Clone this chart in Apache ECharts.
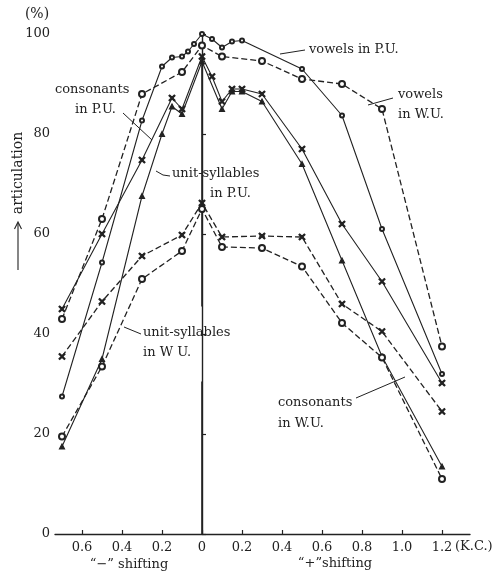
<!DOCTYPE html>
<html>
<head>
<meta charset="utf-8">
<script src="https://cdn.jsdelivr.net/npm/echarts@6/dist/echarts.min.js"></script>
<style>
  html, body { margin: 0; padding: 0; background: #fff; }
  #chart { width: 499px; height: 575px; }
</style>
</head>
<body>
<div id="chart"></div>
<script>
// Articulation (%) against frequency shift (K.C.); negative x = "-" shifting.
const xTickValues = [-0.6, -0.4, -0.2, 0, 0.2, 0.4, 0.6, 0.8, 1.0, 1.2];
const yTickValues = [0, 20, 40, 60, 80, 100];

const vowelsPU_x = [-0.7, -0.5, -0.3, -0.2, -0.15, -0.1, -0.07, -0.04, 0, 0.05, 0.1, 0.15, 0.2, 0.5, 0.7, 0.9, 1.2];
const vowelsPU_y = [27.5, 54.3, 82.7, 93.5, 95.3, 95.5, 96.5, 98, 100, 99, 97.3, 98.5, 98.7, 93, 83.7, 61, 32];

const vowelsWU_x = [-0.7, -0.5, -0.3, -0.1, 0, 0.1, 0.3, 0.5, 0.7, 0.9, 1.2];
const vowelsWU_y = [43, 63, 88, 92.4, 97.7, 95.5, 94.6, 91, 90, 85, 37.5];

const consPU_x = [-0.7, -0.5, -0.3, -0.15, -0.1, 0, 0.05, 0.1, 0.15, 0.2, 0.3, 0.5, 0.7, 0.9, 1.2];
const consPU_y = [45, 60, 74.8, 87.2, 85, 95.5, 91.5, 86.5, 89, 89, 88, 77, 62, 50.5, 30.2];

const unitPU_x = [-0.7, -0.5, -0.3, -0.2, -0.15, -0.1, 0, 0.1, 0.15, 0.2, 0.3, 0.5, 0.7, 0.9, 1.2];
const unitPU_y = [17.5, 35, 67.6, 80, 85.5, 84, 94.5, 85, 88.5, 88.5, 86.5, 74, 54.7, 35.5, 13.5];

const consWU_x = [-0.7, -0.5, -0.3, -0.1, 0, 0.1, 0.3, 0.5, 0.7, 0.9, 1.2];
const consWU_y = [35.5, 46.5, 55.6, 59.8, 66.2, 59.4, 59.6, 59.4, 46, 40.5, 24.5];

const unitWU_x = [-0.7, -0.5, -0.3, -0.1, 0, 0.1, 0.3, 0.5, 0.7, 0.9, 1.2];
const unitWU_y = [19.5, 33.5, 51, 56.6, 65, 57.4, 57.2, 53.5, 42.2, 35.3, 11];

// the zero-shift guide line, broken where the labels sit
const zeroLineLower = [0, 30.5];
const zeroLineUpper = [45.5, 94];

const INK = '#222';
const FONT = 'DejaVu Serif, Liberation Serif, serif';
const CROSS = 'path://M0,1.2L1.2,0L5,3.8L8.8,0L10,1.2L6.2,5L10,8.8L8.8,10L5,6.2L1.2,10L0,8.8L3.8,5Z';

const zip = (xs, ys) => xs.map((x, i) => [x, ys[i]]);

function curve(name, xs, ys, dashed, symbol, size) {
  return {
    name, type: 'line', data: zip(xs, ys),
    symbol, symbolSize: size, showSymbol: true, smooth: false,
    lineStyle: { color: INK, width: dashed ? 1.3 : 1.1, type: dashed ? [6, 3] : 'solid' },
    itemStyle: { color: INK, borderColor: INK, borderWidth: 1.2 },
    silent: true, z: 3
  };
}

const chart = echarts.init(document.getElementById('chart'), null, { renderer: 'canvas' });

chart.setOption({
  animation: false,
  backgroundColor: '#fff',
  grid: { left: 55, right: 29, top: 34, bottom: 41 },
  xAxis: {
    type: 'value', min: -0.735, max: 1.34,
    axisLine: { show: true, onZero: false, lineStyle: { color: INK, width: 1.4 } },
    axisTick: { show: true, inside: true, length: 4, customValues: xTickValues, lineStyle: { color: INK, width: 1.2 } },
    axisLabel: {
      show: true, customValues: xTickValues, margin: 7,
      color: INK, fontFamily: FONT, fontSize: 13,
      formatter: v => (Math.abs(v) < 1e-9 ? '0' : Math.abs(v).toFixed(1))
    },
    splitLine: { show: false }
  },
  yAxis: {
    type: 'value', min: 0, max: 100, interval: 20,
    axisLine: { show: true, lineStyle: { color: INK, width: 1.4 } },
    axisTick: { show: true, inside: true, length: 4, customValues: yTickValues, lineStyle: { color: INK, width: 1.2 } },
    axisLabel: { show: true, customValues: yTickValues, margin: 5, color: INK, fontFamily: FONT, fontSize: 13 },
    splitLine: { show: false }
  },
  series: [
    {
      type: 'line', data: [[0, zeroLineLower[0]], [0, zeroLineLower[1]]],
      symbol: 'none', lineStyle: { color: INK, width: 1.6 }, silent: true, z: 2
    },
    {
      type: 'line', data: [[0, zeroLineUpper[0]], [0, zeroLineUpper[1]]],
      symbol: 'none', lineStyle: { color: INK, width: 1.6 }, silent: true, z: 2
    },
    curve('vowels in P.U.', vowelsPU_x, vowelsPU_y, false, 'emptyCircle', 4),
    curve('vowels in W.U.', vowelsWU_x, vowelsWU_y, true, 'emptyCircle', 6),
    curve('consonants in P.U.', consPU_x, consPU_y, false, CROSS, 6),
    curve('unit-syllables in P.U.', unitPU_x, unitPU_y, false, 'triangle', 5),
    curve('consonants in W.U.', consWU_x, consWU_y, true, CROSS, 6),
    curve('unit-syllables in W.U.', unitWU_x, unitWU_y, true, 'emptyCircle', 6)
  ]
});

// curve labels with their leader lines, placed in data coordinates
const px = (k, v) => chart.convertToPixel({ gridIndex: 0 }, [k, v]);

const labels = [
  { lines: [['vowels in P.U.', 0.535, 96.8]], leader: [[0.39, 96.0], [0.515, 96.8]] },
  { lines: [['vowels', 0.98, 87.8], ['in W.U.', 0.98, 83.9]], leader: [[0.83, 85.8], [0.955, 87.2]] },
  { lines: [['consonants', -0.735, 88.8], ['in P.U.', -0.635, 84.9]], leader: [[-0.395, 84.2], [-0.25, 78.8]] },
  { lines: [['unit-syllables', -0.15, 72], ['in P.U.', 0.04, 68.1]], leader: [[-0.16, 71.6], [-0.195, 71.8], [-0.23, 72.6]] },
  { lines: [['unit-syllables', -0.295, 40.2], ['in W U.', -0.295, 36.3]], leader: [[-0.305, 40], [-0.39, 41.4]] },
  { lines: [['consonants', 0.38, 26.2], ['in W.U.', 0.38, 22.1]], leader: [[0.77, 27.2], [1.015, 31.4]] }
];

const graphic = [];
labels.forEach(l => {
  l.lines.forEach(([t, k, v]) => {
    const p = px(k, v);
    graphic.push({
      type: 'text', x: p[0], y: p[1], silent: true, z: 10,
      style: { text: t, fill: INK, font: '13px ' + FONT, textAlign: 'left', textVerticalAlign: 'middle' }
    });
  });
  graphic.push({
    type: 'polyline', silent: true, z: 9,
    shape: { points: l.leader.map(q => px(q[0], q[1])) },
    style: { stroke: INK, lineWidth: 1, fill: null }
  });
});

const originPt = px(-0.735, 0);
const topPt = px(-0.735, 100);

// unit markers and shifting captions
graphic.push({
  type: 'text', x: topPt[0] - 18, y: topPt[1] - 20, silent: true,
  style: { text: '(%)', fill: INK, font: '14px ' + FONT, textAlign: 'center', textVerticalAlign: 'middle' }
});
const kcPt = px(1.265, 0);
graphic.push({
  type: 'text', x: kcPt[0], y: kcPt[1] + 13, silent: true,
  style: { text: '(K.C.)', fill: INK, font: '13px ' + FONT, textAlign: 'left', textVerticalAlign: 'middle' }
});
const minusCap = px(-0.365, 0);
graphic.push({
  type: 'text', x: minusCap[0], y: minusCap[1] + 31, silent: true,
  style: { text: '\u201C\u2212\u201D shifting', fill: INK, font: '13px ' + FONT, textAlign: 'center', textVerticalAlign: 'middle' }
});
const plusCap = px(0.665, 0);
graphic.push({
  type: 'text', x: plusCap[0], y: plusCap[1] + 30, silent: true,
  style: { text: '\u201C+\u201Dshifting', fill: INK, font: '13px ' + FONT, textAlign: 'center', textVerticalAlign: 'middle' }
});

// rotated axis title with a long upward arrow beneath it
const titleX = originPt[0] - 37;
graphic.push({
  type: 'text', x: titleX, y: topPt[1] + 139, rotation: Math.PI / 2, silent: true,
  style: { text: 'articulation', fill: INK, font: '14px ' + FONT, textAlign: 'center', textVerticalAlign: 'middle' }
});
graphic.push({
  type: 'line', silent: true,
  shape: { x1: titleX, y1: topPt[1] + 236, x2: titleX, y2: topPt[1] + 189 },
  style: { stroke: INK, lineWidth: 1.1 }
});
graphic.push({
  type: 'polyline', silent: true,
  shape: { points: [[titleX - 3.5, topPt[1] + 195], [titleX, topPt[1] + 188], [titleX + 3.5, topPt[1] + 195]] },
  style: { stroke: INK, lineWidth: 1.1, fill: null }
});

chart.setOption({ graphic });
</script>
</body>
</html>
